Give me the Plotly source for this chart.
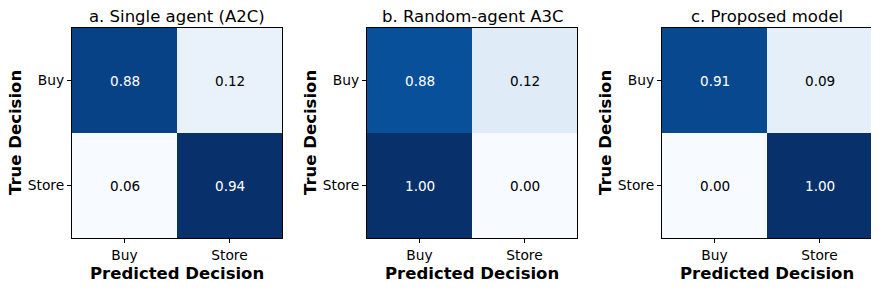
import plotly.graph_objects as go

OFF = 8  # default page body margin
W, H = 879 - OFF, 292 - OFF
labels = ["Buy", "Store"]
titles = ["a. Single agent (A2C)", "b. Random-agent A3C", "c. Proposed model"]
cm_a = [[0.88, 0.12], [0.06, 0.94]]
cm_b = [[0.88, 0.12], [1.00, 0.00]]
cm_c = [[0.91, 0.09], [0.00, 1.00]]
matrices = [cm_a, cm_b, cm_c]
x_title = "Predicted Decision"
y_title = "True Decision"

blues = [[0.0, "#f7fbff"], [0.125, "#deebf7"], [0.25, "#c6dbef"], [0.375, "#9ecae1"],
         [0.5, "#6baed6"], [0.625, "#4292c6"], [0.75, "#2171b5"], [0.875, "#08519c"],
         [1.0, "#08306b"]]

FONT = "DejaVu Sans"
fig = go.Figure()
lefts = [72 - OFF, 367 - OFF, 662 - OFF]
size = 210
top = 28 - OFF

for i, (cm, title) in enumerate(zip(matrices, titles)):
    n = i + 1
    xa = "x" if n == 1 else f"x{n}"
    ya = "y" if n == 1 else f"y{n}"
    flat = [v for row in cm for v in row]
    zmin, zmax = min(flat), max(flat)
    fig.add_trace(go.Heatmap(z=cm, x=labels, y=labels, colorscale=blues, zmin=zmin, zmax=zmax,
                             showscale=False, xaxis=xa, yaxis=ya, xgap=0, ygap=0,
                             hoverinfo="skip"))
    thresh = zmax / 2
    for r, row in enumerate(cm):
        for c, v in enumerate(row):
            fig.add_annotation(x=labels[c], y=labels[r], xref=xa, yref=ya, text=f"{v:.2f}",
                               showarrow=False,
                               font=dict(family=FONT, size=13.6,
                                         color="white" if v > thresh else "black"))
    x0 = lefts[i] / W
    x1 = (lefts[i] + size) / W
    y1 = 1 - top / H
    y0 = 1 - (top + size) / H
    axcommon = dict(showline=True, linecolor="black", linewidth=1, mirror=True,
                    ticks="outside", ticklen=4, tickcolor="black", showgrid=False,
                    zeroline=False, automargin=False,
                    tickfont=dict(family=FONT, size=13.8, color="black"))
    fig.layout[f"xaxis{'' if n == 1 else n}"] = dict(
        domain=[x0, x1], anchor=ya, categoryorder="array", categoryarray=labels, **axcommon)
    fig.layout[f"yaxis{'' if n == 1 else n}"] = dict(
        domain=[y0, y1], anchor=xa, categoryorder="array", categoryarray=labels[::-1], **axcommon)
    # panel title
    fig.add_annotation(x=(x0 + x1) / 2, y=1 - 9 / H, xref="paper", yref="paper",
                       xanchor="center", yanchor="middle", text=title, showarrow=False,
                       font=dict(family=FONT, size=16.5, color="black"))
    # x axis title
    fig.add_annotation(x=(x0 + x1) / 2, y=1 - (273 - OFF) / H, xref="paper", yref="paper",
                       xanchor="center", yanchor="middle", text=f"<b>{x_title}</b>",
                       showarrow=False, font=dict(family=FONT, size=16.5, color="black"))
    # y axis title
    fig.add_annotation(x=(lefts[i] - 56) / W, y=(y0 + y1) / 2, xref="paper", yref="paper",
                       xanchor="center", yanchor="middle", textangle=-90,
                       text=f"<b>{y_title}</b>", showarrow=False,
                       font=dict(family=FONT, size=16.5, color="black"))

fig.update_layout(width=W, height=H, margin=dict(l=0, r=0, t=0, b=0),
                  paper_bgcolor="white", plot_bgcolor="white", font=dict(family=FONT))
fig.write_html("out.html")
